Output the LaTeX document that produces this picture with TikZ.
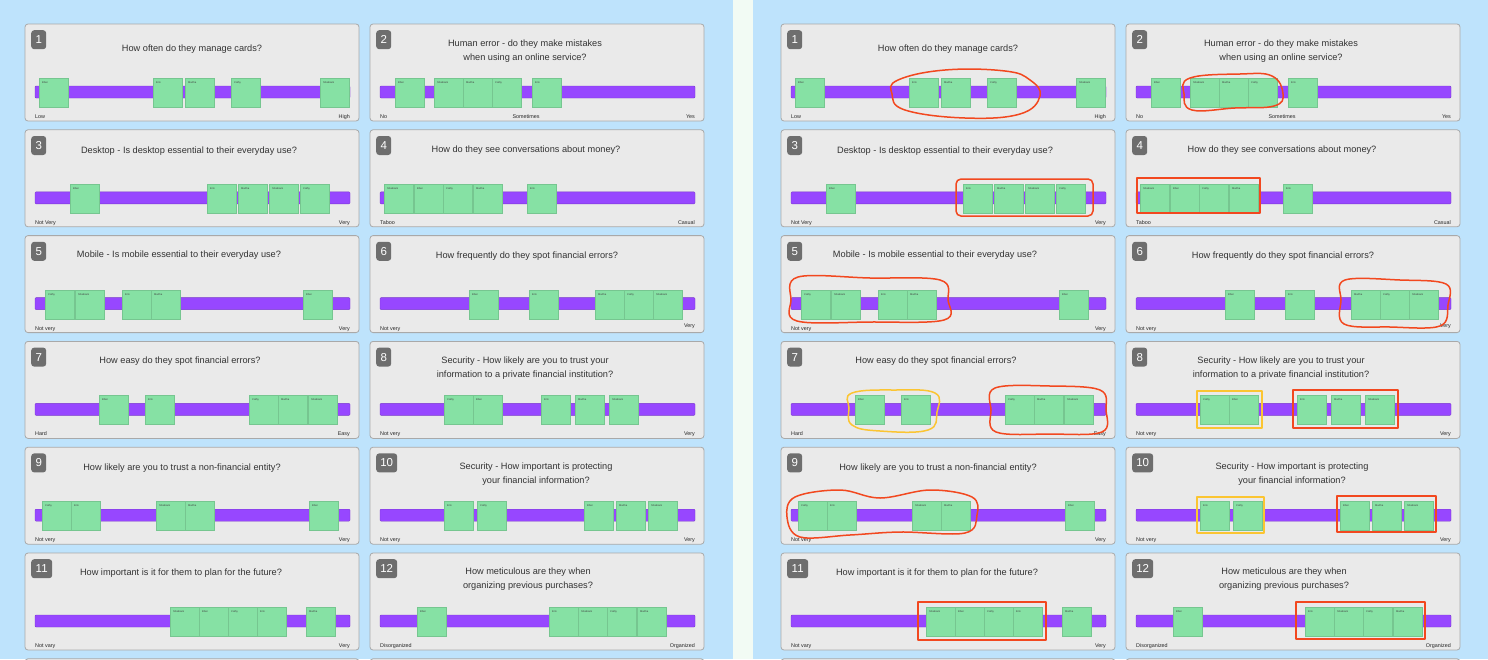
\documentclass[tikz,border=0pt]{standalone}
\usepackage{fontspec}
\setmainfont{Liberation Sans}
\usetikzlibrary{calc}
\definecolor{panelblue}{HTML}{BEE3FC}
\definecolor{gapgreen}{HTML}{F2FBF4}
\definecolor{cardfill}{HTML}{EAEAEA}
\definecolor{cardline}{HTML}{A9A9A9}
\definecolor{badgegray}{HTML}{6E6E6E}
\definecolor{titlegray}{HTML}{333333}
\definecolor{barpurple}{HTML}{9747FF}
\definecolor{stickygreen}{HTML}{86E1A4}
\definecolor{markred}{HTML}{F2481F}
\definecolor{markyellow}{HTML}{FBC532}

\tikzset{
  cardbox/.style={draw=cardline, fill=cardfill, rounded corners=3pt, line width=0.8pt},
  badge/.style={fill=badgegray, rounded corners=3pt, text=white, font=\fontsize{11.5}{12}\selectfont,
    minimum height=19pt, inner sep=0pt, anchor=north west},
  qtitle/.style={font=\fontsize{9.2}{14}\selectfont, text=titlegray, align=center, inner sep=0pt},
  endlabel/.style={font=\fontsize{5.4}{6}\selectfont, text=black!85, inner sep=0pt},
  scalebar/.style={fill=barpurple, draw=barpurple!80!black, line width=0.4pt, rounded corners=1pt},
  sticky/.style={fill=stickygreen, draw=stickygreen!88!black, line width=0.3pt,
    minimum size=29pt, inner sep=0pt, anchor=north west},
  stickyname/.style={font=\fontsize{2.6}{3}\selectfont, text=black!75, anchor=north west, inner sep=0pt},
  redmark/.style={draw=markred, line width=1.5pt, line join=round, line cap=round},
  yellowmark/.style={draw=markyellow, line width=1.5pt, line join=round, line cap=round},
}

% one question card: x, y, number, title, title x, title y, low end, high end, votes
\newcommand\qcard[9]{%
  \begin{scope}[shift={(#1,#2)}]
    \ifnum#3>9 \def\bw{21pt}\else\def\bw{15pt}\fi
    \path[cardbox] (0,0) rectangle (334,97);
    \node[badge, minimum width=\bw] (num#3) at (6,6) {#3};
    \node[qtitle] (q#3) at (#5,#6) {#4};
    \path[scalebar] (10,62) rectangle (325,74);
    \node[endlabel, anchor=base west] (lo#3) at (10,94.5) {#7};
    \node[endlabel, anchor=base east] (hi#3) at (325,94.5) {#8};
    \foreach \sx/\who in {#9} {
      \fill[black!20] (\sx+0.5,54.8) rectangle (\sx+29.6,83.7);
      \node[sticky] (s\sx) at (\sx,54) {};
      \node[stickyname] (n\sx) at (\sx+3,57.5) {\who};
    }
  \end{scope}}

\begin{document}
\begin{tikzpicture}[x=1pt,y=-1pt]
  \useasboundingbox (0,0) rectangle (1488,659);
  \clip (0,0) rectangle (1488,659);
  %%%%% BOARDS %%%%%
  \fill[panelblue] (0,0) rectangle (733,659);
  \fill[gapgreen] (733,0) rectangle (753,659);
  \fill[panelblue] (753,0) rectangle (1488,659);

  \foreach \dx in {0,756} {
    \qcard{25+\dx}{24}{1}{How often do they manage cards?}{167}{25}{Low}{High}
      {14/Ellen,128/Erin,160/Martha,206/Cathy,295/Shabnam}
    \qcard{370+\dx}{24}{2}{Human error - do they make mistakes\\when using an online service?}{155}{27}{No}{Yes}
      {25/Ellen,64/Shabnam,93/Martha,122/Cathy,162/Erin}
    \node[endlabel, anchor=base] (mid2) at (526+\dx,118.5) {Sometimes};

    \qcard{25+\dx}{129.8}{3}{Desktop - Is desktop essential to their everyday use?}{164}{21}{Not Very}{Very}
      {45/Ellen,182/Erin,213/Martha,244/Shabnam,275/Cathy}
    \qcard{370+\dx}{129.8}{4}{How do they see conversations about money?}{156}{20}{Taboo}{Casual}
      {14/Shabnam,44/Ellen,73/Cathy,103/Martha,157/Erin}

    \qcard{25+\dx}{235.6}{5}{Mobile - Is mobile essential to their everyday use?}{154}{20}{Not very}{Very}
      {20/Cathy,50/Shabnam,97/Erin,126/Martha,278/Ellen}
    \qcard{370+\dx}{235.6}{6}{How frequently do they spot financial errors?}{157}{21}{Not very}{}
      {99/Ellen,159/Erin,225/Martha,254/Cathy,283/Shabnam}
    \node[endlabel, anchor=base east] (hi6b) at (695+\dx,327.5) {Very};

    \qcard{25+\dx}{341.4}{7}{How easy do they spot financial errors?}{155}{20}{Hard}{Easy}
      {74/Ellen,120/Erin,224/Cathy,253/Martha,283/Shabnam}
    \qcard{370+\dx}{341.4}{8}{Security - How likely are you to trust your\\information to a private financial institution?}{155}{27}{Not very}{Very}
      {74/Cathy,103/Ellen,171/Erin,205/Martha,239/Shabnam}

    \qcard{25+\dx}{447.2}{9}{How likely are you to trust a non-financial entity?}{157}{20.5}{Not very}{Very}
      {17/Cathy,46/Erin,131/Shabnam,160/Martha,284/Ellen}
    \qcard{370+\dx}{447.2}{10}{Security - How important is protecting\\your financial information?}{166}{27}{Not very}{Very}
      {74/Erin,107/Cathy,214/Ellen,246/Martha,278/Shabnam}

    \qcard{25+\dx}{553}{11}{How important is it for them to plan for the future?}{156}{20}{Not vary}{Very}
      {145/Shabnam,174/Ellen,203/Cathy,232/Erin,281/Martha}
    \qcard{370+\dx}{553}{12}{How meticulous are they when\\organizing previous purchases?}{158}{26.5}{Disorganized}{Organized}
      {47/Ellen,179/Erin,208/Shabnam,237/Cathy,267/Martha}

    % next row, cut off
    \path[cardbox] (25+\dx,658.8) rectangle (359+\dx,700);
    \path[cardbox] (370+\dx,658.8) rectangle (704+\dx,700);
  }

  %%%%% MARKS %%%%%
  \draw[redmark] plot[smooth cycle, tension=0.7] coordinates
    {(898,80) (945,70) (1005,71) (1030,80) (1040,96) (1020,114) (965,118) (905,110) (892,94)};
  \draw[redmark] plot[smooth cycle, tension=0.7] coordinates
    {(1190,78) (1240,74) (1272,76) (1283,94) (1274,106) (1235,108) (1192,110) (1184,94)};
  \draw[redmark, rounded corners=5pt] (956,179) rectangle (1093,216);
  \draw[redmark] (1137,178) rectangle (1260,213);
  \draw[redmark] plot[smooth cycle, tension=0.6] coordinates
    {(798,277) (870,278) (940,280) (948,300) (944,320) (870,322) (797,321) (791,300)};
  \draw[redmark] plot[smooth cycle, tension=0.6] coordinates
    {(1345,280) (1400,280) (1446,284) (1448,305) (1440,326) (1390,327) (1344,324) (1341,300)};
  \draw[yellowmark] plot[smooth cycle, tension=0.7] coordinates
    {(852,393) (895,390) (935,393) (937,412) (928,430) (880,431) (852,425) (849,408)};
  \draw[redmark] plot[smooth cycle, tension=0.6] coordinates
    {(995,388) (1050,386) (1100,390) (1106,410) (1102,432) (1050,434) (996,432) (991,410)};
  \draw[yellowmark] (1197,391) rectangle (1262,428);
  \draw[redmark] (1293,390) rectangle (1398,428);
  \draw[redmark] plot[smooth cycle, tension=0.6] coordinates
    {(795,497) (840,490) (880,498) (930,490) (972,497) (977,515) (965,533) (900,532) (850,535) (800,537) (787,517)};
  \draw[yellowmark] (1197,497) rectangle (1264,533);
  \draw[redmark] (1337,496) rectangle (1436,532);
  \draw[redmark] (918,602) rectangle (1046,640);
  \draw[redmark] (1296,602) rectangle (1425,639);
\end{tikzpicture}
\end{document}
